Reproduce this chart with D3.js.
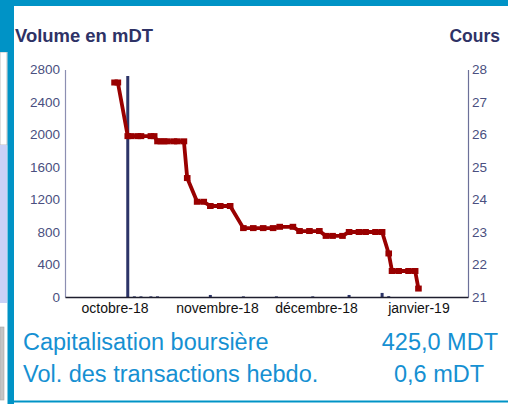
<!DOCTYPE html>
<html>
<head>
<meta charset="utf-8">
<script src="https://cdn.jsdelivr.net/npm/d3@7"></script>
<style>
  body { margin: 0; background: #fff; }
  svg { display: block; font-family: "Liberation Sans", Arial, sans-serif; }
</style>
</head>
<body>
<div id="chart"></div>
<script>
// cours (axe droit), points quotidiens
const priceDates = ["2018-10-01","2018-10-02","2018-10-05","2018-10-06","2018-10-08","2018-10-09",
  "2018-10-12","2018-10-13","2018-10-14","2018-10-15","2018-10-16","2018-10-17","2018-10-19",
  "2018-10-20","2018-10-22","2018-10-23","2018-10-26","2018-10-28","2018-10-30","2018-11-02",
  "2018-11-05","2018-11-09","2018-11-12","2018-11-15","2018-11-18","2018-11-20","2018-11-24",
  "2018-11-26","2018-11-29","2018-12-02","2018-12-04","2018-12-06","2018-12-09","2018-12-11",
  "2018-12-14","2018-12-16","2018-12-19","2018-12-21","2018-12-23","2018-12-24","2018-12-26",
  "2018-12-29","2018-12-31","2019-01-01"];
const priceValues = [27.6, 27.6, 25.95, 25.95, 25.95, 25.95,
  25.95, 25.95, 25.79, 25.79, 25.79, 25.79, 25.79,
  25.79, 25.79, 24.66, 23.93, 23.93, 23.8, 23.8,
  23.8, 23.12, 23.12, 23.12, 23.12, 23.16, 23.16,
  23.03, 23.03, 23.03, 22.88, 22.88, 22.88, 23.0,
  23.0, 23.0, 23.0, 23.0, 22.34, 21.8, 21.8,
  21.8, 21.8, 21.26];

// volume en mDT (axe gauche)
const volumeDates = ["2018-10-05","2018-10-07","2018-10-09","2018-10-12","2018-10-14","2018-10-30",
  "2018-11-09","2018-11-19","2018-11-30","2018-12-11","2018-12-21","2018-12-23"];
const volumeValues = [2720, 8, 8, 8, 8, 25, 8, 8, 8, 25, 50, 10];

const volumeTicks = [0, 400, 800, 1200, 1600, 2000, 2400, 2800];
const priceTicks = [21, 22, 23, 24, 25, 26, 27, 28];
const monthDates = ["2018-10-01", "2018-11-01", "2018-12-01", "2019-01-01"];
const monthLabels = ["octobre-18", "novembre-18", "décembre-18", "janvier-19"];
const xDomain = ["2018-09-16", "2019-01-16"];

const W = 508, H = 404;
const blue = "#0093c6", textBlue = "#1690d2", navy = "#2c3468", tickCol = "#4a4f80", red = "#990000";
const parse = d3.timeParse("%Y-%m-%d");

const svg = d3.select("#chart").append("svg")
    .attr("width", W)
    .attr("height", H);

// cadre de la page
svg.append("rect").attr("x", 0).attr("y", 52).attr("width", 7).attr("height", 93)
    .attr("fill", "#fff").attr("stroke", "#b0b0b0").attr("stroke-width", 0.8);
svg.append("rect").attr("x", 0).attr("y", 145).attr("width", 7).attr("height", 158).attr("fill", "#c9d1f7");
svg.append("rect").attr("x", 0).attr("y", 327).attr("width", 4).attr("height", 73)
    .attr("fill", "#c4c4c4").attr("stroke", "#a8a8a8").attr("stroke-width", 0.6);
svg.append("rect").attr("x", 0).attr("y", 0).attr("width", 14).attr("height", 52).attr("fill", blue);
svg.append("rect").attr("x", 7.5).attr("y", 0).attr("width", 6.5).attr("height", H).attr("fill", blue);
svg.append("rect").attr("x", 0).attr("y", 0).attr("width", W).attr("height", 6).attr("fill", blue);
svg.append("rect").attr("x", 14).attr("y", 400.5).attr("width", W - 14).attr("height", 2).attr("fill", blue);

// zone du graphique
const plot = {left: 65, right: 468, top: 69.5, bottom: 297};

const x = d3.scaleTime()
    .domain(xDomain.map(parse))
    .range([plot.left, plot.right]);

const yVol = d3.scaleLinear()
    .domain([0, 2800])
    .range([plot.bottom, plot.top]);

const yPrice = d3.scaleLinear()
    .domain([21, 28])
    .range([plot.bottom, plot.top]);

// titres des axes
svg.append("text")
    .attr("x", 15).attr("y", 42)
    .attr("font-size", 17.5).attr("font-weight", "bold").attr("fill", "#2e3266")
    .attr("textLength", 138).attr("lengthAdjust", "spacingAndGlyphs")
    .text("Volume en mDT");
svg.append("text")
    .attr("x", 500).attr("y", 42)
    .attr("text-anchor", "end")
    .attr("font-size", 17.5).attr("font-weight", "bold").attr("fill", "#2e3266")
    .text("Cours");

// axe gauche
const yAxisL = svg.append("g")
    .attr("transform", "translate(" + plot.left + ",0)")
    .call(d3.axisLeft(yVol).tickValues(volumeTicks).tickSize(0).tickPadding(5).tickFormat(d3.format("d")));
yAxisL.select(".domain").attr("stroke", "#8c8fb2").attr("stroke-width", 1.2);
yAxisL.selectAll("text").attr("font-size", 13.5).attr("fill", tickCol).style("font-family", "Liberation Sans, Arial, sans-serif");

// axe droit
const yAxisR = svg.append("g")
    .attr("transform", "translate(" + plot.right + ",0)")
    .call(d3.axisRight(yPrice).tickValues(priceTicks).tickSize(0).tickPadding(4).tickFormat(d3.format("d")));
yAxisR.select(".domain").attr("stroke", "#6c7099").attr("stroke-width", 1.2);
yAxisR.selectAll("text").attr("font-size", 13.5).attr("fill", tickCol).style("font-family", "Liberation Sans, Arial, sans-serif");

// barres de volume
svg.append("g")
    .selectAll("rect")
    .data(volumeDates)
    .join("rect")
    .attr("x", d => x(parse(d)) - 1.5)
    .attr("width", 3)
    .attr("y", (d, i) => yVol(volumeValues[i]))
    .attr("height", (d, i) => plot.bottom - yVol(volumeValues[i]))
    .attr("fill", navy);

// axe du bas
const xAxis = svg.append("g")
    .attr("transform", "translate(0," + plot.bottom + ")")
    .call(d3.axisBottom(x).tickValues(monthDates.map(parse)).tickSize(0).tickPadding(6)
        .tickFormat((d, i) => monthLabels[i]));
xAxis.select(".domain").attr("stroke", "#1e1e2e").attr("stroke-width", 1.5);
xAxis.selectAll("text").attr("font-size", 14).attr("fill", "#111").style("font-family", "Liberation Sans, Arial, sans-serif");

// courbe du cours
const pts = priceDates.map((d, i) => [parse(d), priceValues[i]]);
const line = d3.line()
    .x(d => x(d[0]))
    .y(d => yPrice(d[1]));

svg.append("path")
    .datum(pts)
    .attr("d", line)
    .attr("fill", "none")
    .attr("stroke", red)
    .attr("stroke-width", 3.8)
    .attr("stroke-linejoin", "round");

svg.append("g")
    .selectAll("rect")
    .data(pts)
    .join("rect")
    .attr("x", d => x(d[0]) - 3.3)
    .attr("y", d => yPrice(d[1]) - 3)
    .attr("width", 6.6)
    .attr("height", 6)
    .attr("fill", red);

// chiffres clés
const info = svg.append("g").attr("fill", textBlue).attr("font-size", 23.5);
info.append("text").attr("x", 23).attr("y", 350).text("Capitalisation boursière");
info.append("text").attr("x", 498).attr("y", 350).attr("text-anchor", "end").text("425,0 MDT");
info.append("text").attr("x", 23).attr("y", 382).text("Vol. des transactions hebdo.");
info.append("text").attr("x", 439).attr("y", 382).attr("text-anchor", "middle").text("0,6 mDT");
</script>
</body>
</html>
